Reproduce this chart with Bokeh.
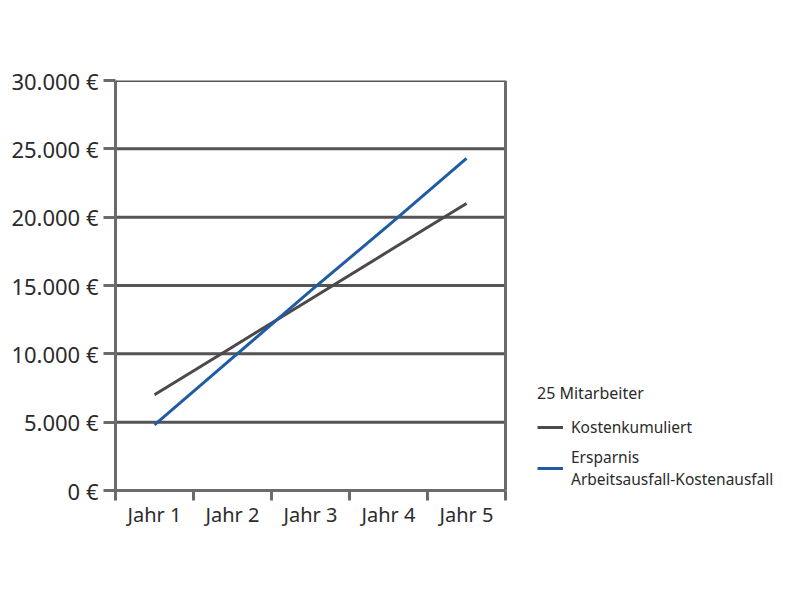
from bokeh.plotting import figure
from bokeh.models import FixedTicker, Legend, LegendItem, Range1d, Span
from bokeh.embed import file_html
from bokeh.resources import INLINE

years = ["Jahr 1", "Jahr 2", "Jahr 3", "Jahr 4", "Jahr 5"]
x_pos = [1, 2, 3, 4, 5]
kosten = [7000, 10500, 14000, 17500, 21000]
ersparnis = [4800, 9700, 14600, 19400, 24300]
y_ticks = [0, 5000, 10000, 15000, 20000, 25000, 30000]
y_labels = ["0 €", "5.000 €", "10.000 €", "15.000 €", "20.000 €", "25.000 €", "30.000 €"]
legend_title = "25 Mitarbeiter"
label_kosten = "Kostenkumuliert"
label_ersparnis = "Ersparnis\nArbeitsausfall-Kostenausfall"

FONT = "Noto Sans"
AX = "#6b6b6b"
GRID = "#555555"

PLOT_W = 390   # width of the data area
FRAME_W = 669  # frame incl. legend space
x_lo = x_pos[0] - 0.5
x_hi = x_pos[-1] + 0.5
x_end = x_lo + (x_hi - x_lo) * FRAME_W / PLOT_W

p = figure(frame_width=FRAME_W, frame_height=410, output_backend="svg", toolbar_location=None,
           x_range=Range1d(x_lo, x_end), y_range=Range1d(y_ticks[0], y_ticks[-1]),
           min_border_left=115, min_border_right=0, min_border_top=80, min_border_bottom=90)
p.outline_line_color = None
p.background_fill_color = "white"
p.xgrid.visible = False
p.ygrid.visible = False

# horizontal grid lines only over the data area
p.segment(x0=[x_lo] * len(y_ticks), x1=[x_hi] * len(y_ticks), y0=y_ticks, y1=y_ticks,
          line_color=GRID, line_width=3)
# right border of the data area
p.add_layout(Span(location=x_hi, dimension="height", line_color=AX, line_width=3))

# x axis
xa = p.xaxis[0]
xa.bounds = (x_lo, x_hi)
xa.ticker = FixedTicker(ticks=x_pos, minor_ticks=[v - 0.5 for v in x_pos] + [x_hi])
xa.major_label_overrides = {x: lab for x, lab in zip(x_pos, years)}
xa.major_tick_line_color = None
xa.minor_tick_line_color = AX
xa.minor_tick_line_width = 3
xa.minor_tick_out = 10
xa.minor_tick_in = 0
xa.axis_line_color = AX
xa.axis_line_width = 3
xa.major_label_text_font = FONT
xa.major_label_text_font_size = "20px"
xa.major_label_text_color = "#2b2b2b"
xa.major_label_standoff = 0

# y axis
ya = p.yaxis[0]
ya.ticker = FixedTicker(ticks=y_ticks)
ya.major_label_overrides = {t: lab for t, lab in zip(y_ticks, y_labels)}
ya.major_tick_line_color = AX
ya.major_tick_line_width = 3
ya.major_tick_out = 12
ya.major_tick_in = 0
ya.minor_tick_line_color = None
ya.axis_line_color = AX
ya.axis_line_width = 3
ya.major_label_text_font = FONT
ya.major_label_text_font_size = "22px"
ya.major_label_text_color = "#2b2b2b"
ya.major_label_standoff = 5

r1 = p.line(x_pos, kosten, line_color="#4a4a4a", line_width=3)
r2 = p.line(x_pos, ersparnis, line_color="#1f5ca3", line_width=3)

legend = Legend(items=[LegendItem(label=label_kosten, renderers=[r1]),
                       LegendItem(label=label_ersparnis, renderers=[r2])],
                title=legend_title, location=(422, 0))
legend.title_text_font = FONT
legend.title_text_font_style = "normal"
legend.title_text_font_size = "16px"
legend.title_text_color = "#2b2b2b"
legend.title_standoff = 12
legend.label_text_font = FONT
legend.label_text_font_size = "15.5px"
legend.label_text_color = "#2b2b2b"
legend.label_standoff = 8
legend.glyph_width = 26
legend.spacing = 8
legend.border_line_color = None
legend.background_fill_alpha = 0
legend.margin = 0
legend.padding = 1
p.add_layout(legend, "center")

open("out.html", "w").write(file_html(p, INLINE))
